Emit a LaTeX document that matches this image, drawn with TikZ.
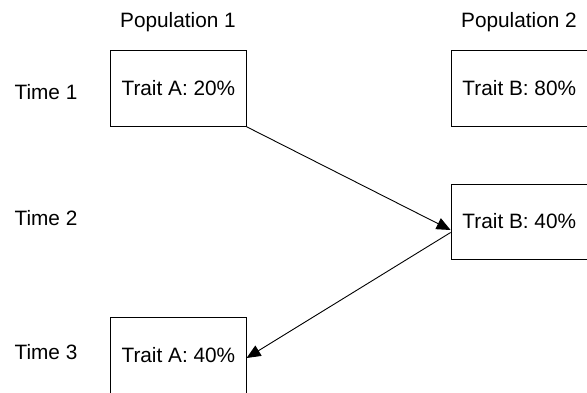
\documentclass[tikz,border=0pt]{standalone}
\usepackage{fontspec}
\setmainfont{Liberation Sans}
\usetikzlibrary{arrows.meta}
\begin{document}
\begin{tikzpicture}[x=1pt,y=-1pt,
  traitbox/.style={draw,line width=0.9pt,minimum width=135.5pt,minimum height=76pt,inner sep=0pt,font=\fontsize{20.8}{24}\selectfont},
  lbl/.style={anchor=base,inner sep=0pt,font=\fontsize{20.8}{24}\selectfont},
  conn/.style={line width=0.9pt,-{Triangle[length=14pt,width=12pt]}}]
\useasboundingbox (0,0) rectangle (587,392);
\node[lbl] (pop1) at (178,27) {Population 1};
\node[lbl] (pop2) at (519,27) {Population 2};
\node[lbl] (t1) at (46,99) {Time 1};
\node[lbl] (t2) at (46,225) {Time 2};
\node[lbl] (t3) at (46,359) {Time 3};
\node[traitbox] (a1) at (178.4,88.3) {Trait A: 20\%};
\node[traitbox,minimum width=136.5pt] (b1) at (519.3,88.3) {Trait B: 80\%};
\node[traitbox,minimum width=136.5pt,minimum height=75pt] (b2) at (519.3,221.5) {Trait B: 40\%};
\node[traitbox] (a3) at (178.4,355) {Trait A: 40\%};
\draw[conn] (a1.south east) -- ([yshift=-8.5pt]b2.west);
\draw[conn] ([yshift=-11pt]b2.west) -- ([yshift=-3pt]a3.east);
\end{tikzpicture}
\end{document}
